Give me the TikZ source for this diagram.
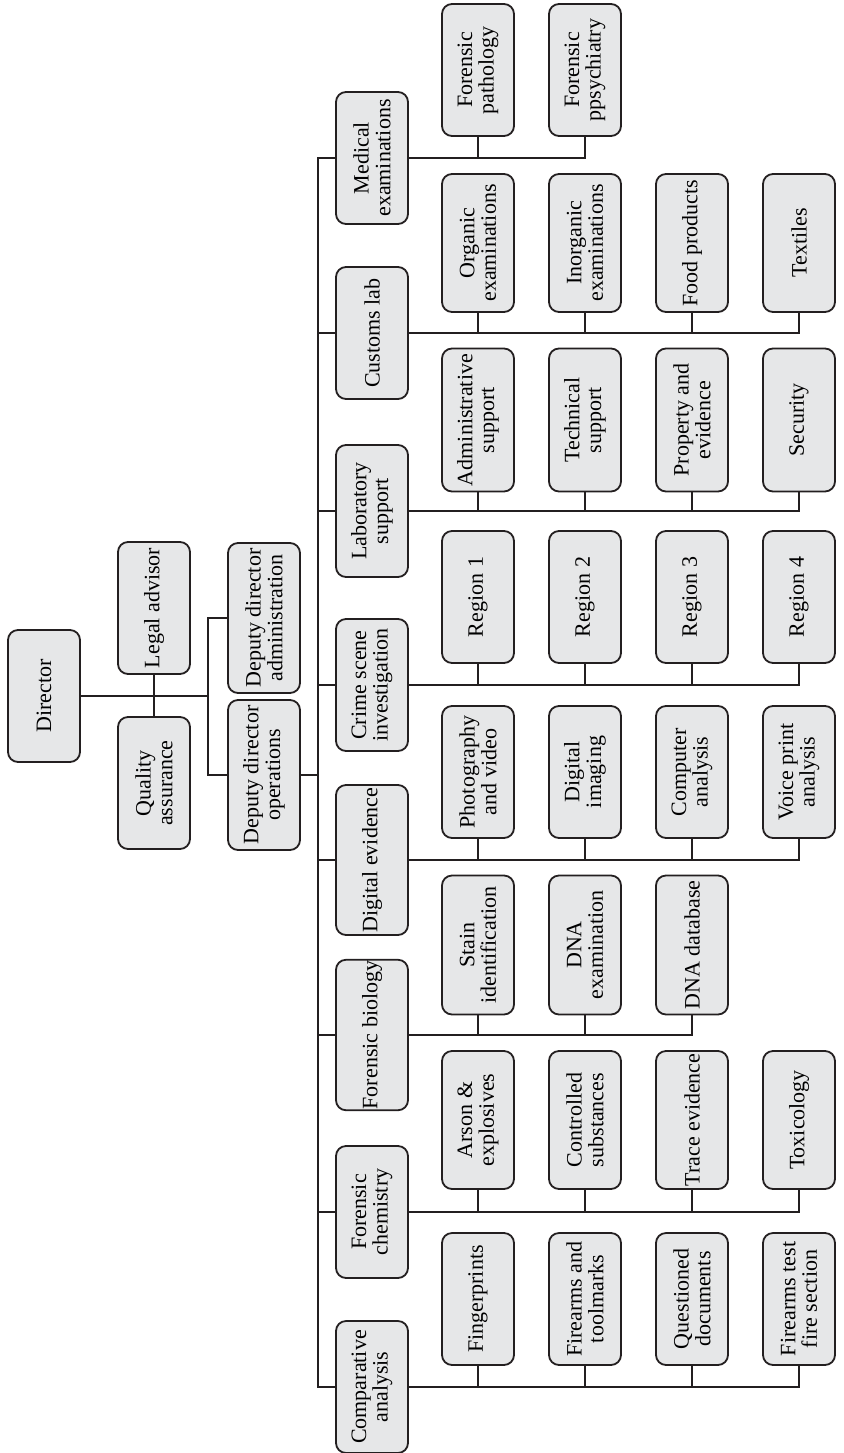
\documentclass[tikz,border=0pt]{standalone}
\usepackage{fontspec}
\setmainfont{Liberation Serif}
\usetikzlibrary{positioning}
\definecolor{boxgray}{RGB}{230,231,232}
\definecolor{ink}{RGB}{35,31,32}

\begin{document}
\begin{tikzpicture}[
  x=0.5pt, y=-0.5pt,
  font=\fontsize{11}{10.8}\selectfont,
  box/.style={draw=ink, line width=0.9pt, rounded corners=5pt, fill=boxgray, rotate=90, align=center, inner sep=0.5pt, minimum height=36pt, minimum width=66pt},
  tall/.style={minimum width=75pt},
  link/.style={draw=ink, line width=0.9pt},
  trunk/.style={draw=ink, line width=1.4pt}
]
\useasboundingbox (0,0) rectangle (844,1453);

\node[box] (director) at (44,696) {Director};
\node[box] (legal) at (154,608) {Legal advisor};
\node[box] (quality) at (154,783) {Quality\\assurance};
\node[box, tall] (dda) at (264,618) {Deputy director\\administration};
\node[box, tall] (ddo) at (264,775) {Deputy director\\operations};

\node[box] (medical) at (372,158) {Medical\\examinations};
\node[box] (customs) at (372,333) {Customs lab};
\node[box] (labsup) at (372,511) {Laboratory\\support};
\node[box] (crime) at (372,685) {Crime scene\\investigation};
\node[box, tall] (digital) at (372,860) {Digital evidence};
\node[box, tall] (biology) at (372,1035) {Forensic biology};
\node[box] (chemistry) at (372,1212) {Forensic\\chemistry};
\node[box] (compar) at (372,1387) {Comparative\\analysis};

\node[box] (pathology) at (478,70) {Forensic\\pathology};
\node[box] (psychiatry) at (585,70) {Forensic\\ppsychiatry};

\node[box, minimum width=69pt] (organic) at (478,243) {Organic\\examinations};
\node[box, minimum width=69pt] (inorganic) at (585,243) {Inorganic\\examinations};
\node[box, minimum width=69pt] (food) at (692,243) {Food products};
\node[box, minimum width=69pt] (textiles) at (799,243) {Textiles};

\node[box, minimum width=71.5pt] (admin) at (478,420) {Administrative\\support};
\node[box, minimum width=71.5pt] (technical) at (585,420) {Technical\\support};
\node[box, minimum width=71.5pt] (property) at (692,420) {Property and\\evidence};
\node[box, minimum width=71.5pt] (security) at (799,420) {Security};

\node[box] (region1) at (478,597) {Region 1};
\node[box] (region2) at (585,597) {Region 2};
\node[box] (region3) at (692,597) {Region 3};
\node[box] (region4) at (799,597) {Region 4};

\node[box] (photo) at (478,772) {Photography\\and video};
\node[box] (imaging) at (585,772) {Digital\\imaging};
\node[box] (computer) at (692,772) {Computer\\analysis};
\node[box] (voice) at (799,772) {Voice print\\analysis};

\node[box, minimum width=69.5pt] (stain) at (478,945) {Stain\\identification};
\node[box, minimum width=69.5pt] (dnaexam) at (585,945) {DNA\\examination};
\node[box, minimum width=69.5pt] (dnabase) at (692,945) {DNA database};

\node[box, minimum width=69pt] (arson) at (478,1120) {Arson \&\\explosives};
\node[box, minimum width=69pt] (controlled) at (585,1120) {Controlled\\substances};
\node[box, minimum width=69pt] (trace) at (692,1120) {Trace evidence};
\node[box, minimum width=69pt] (toxic) at (799,1120) {Toxicology};

\node[box] (fingerprints) at (478,1299) {Fingerprints};
\node[box] (toolmarks) at (585,1299) {Firearms and\\toolmarks};
\node[box] (questioned) at (692,1299) {Questioned\\documents};
\node[box] (testfire) at (799,1299) {Firearms test\\fire section};

\coordinate (split) at (208,696);
\coordinate (bus) at (318,775);

\draw[link] (director.south) -- (split);
\draw[link] (legal.west) -- (quality.east);
\draw[link] (split) |- (dda.north);
\draw[link] (split) |- (ddo.north);
\draw[trunk] (ddo.south) -- (bus);
\foreach \h in {medical,customs,labsup,crime,digital,biology,chemistry,compar} {
  \draw[link] (bus) |- (\h.north);
}

\foreach \c in {pathology,psychiatry} \draw[link] (medical.south) -| (\c.west);
\foreach \c in {organic,inorganic,food,textiles} \draw[link] (customs.south) -| (\c.west);
\foreach \c in {admin,technical,property,security} \draw[link] (labsup.south) -| (\c.west);
\foreach \c in {region1,region2,region3,region4} \draw[link] (crime.south) -| (\c.west);
\foreach \c in {photo,imaging,computer,voice} \draw[link] (digital.south) -| (\c.west);
\foreach \c in {stain,dnaexam,dnabase} \draw[link] (biology.south) -| (\c.west);
\foreach \c in {arson,controlled,trace,toxic} \draw[link] (chemistry.south) -| (\c.west);
\foreach \c in {fingerprints,toolmarks,questioned,testfire} \draw[link] (compar.south) -| (\c.west);

\end{tikzpicture}
\end{document}
